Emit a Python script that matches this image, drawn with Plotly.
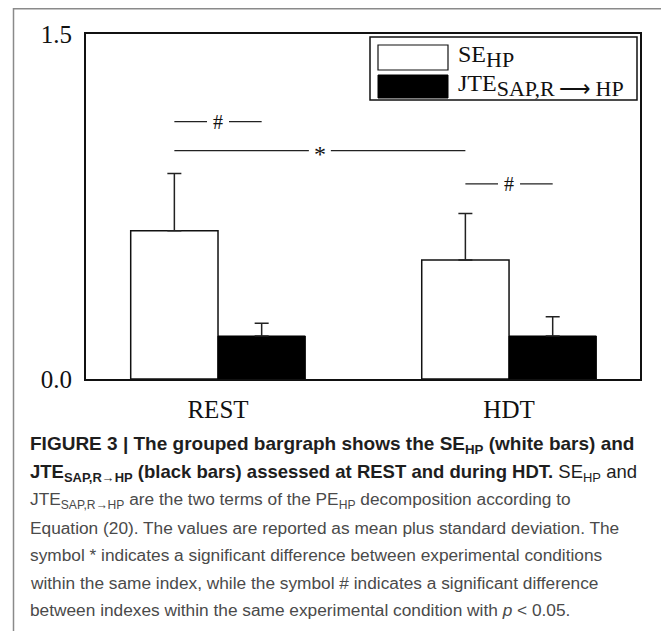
import plotly.graph_objects as go

# ---------------- data ----------------
categories = ["REST", "HDT"]
se_hp_mean = [0.645, 0.517]
se_hp_sd = [0.249, 0.203]
jte_mean = [0.187, 0.187]
jte_sd = [0.055, 0.084]
y_tick_vals = [0.0, 1.5]
y_tick_text = ["0.0", "1.5"]
series_names = ["SE<sub>HP</sub>", "JTE<sub>SAP,R\u2192HP</sub>"]
legend_labels = [
    "SE<sub><span style='font-size:22px'>HP</span></sub>",
    "JTE<sub><span style='font-size:22px'>SAP,R\u2009\u27F6\u2009HP</span></sub>",
]

caption_lines = [
    "<b>FIGURE 3 | The grouped bargraph shows the SE<sub>HP</sub> (white bars) and</b>",
    "<b>JTE<sub>SAP,R\u2192HP</sub> (black bars) assessed at REST and during HDT.</b> SE<sub>HP</sub> and",
    "JTE<sub>SAP,R\u2192HP</sub> are the two terms of the PE<sub>HP</sub> decomposition according to",
    "Equation (20). The values are reported as mean plus standard deviation. The",
    "symbol * indicates a significant difference between experimental conditions",
    "within the same index, while the symbol # indicates a significant difference",
    "between indexes within the same experimental condition with <i>p</i> &lt; 0.05.",
]
caption_sizes = [19, 18.5, 17.3, 17.3, 17.3, 17.3, 17.3]

# significance comparisons: (category a, series a, category b, series b, level, symbol)
comparisons = [
    (0, 0, 0, 1, 1.119, "#"),
    (0, 0, 1, 0, 0.993, "*"),
    (1, 0, 1, 1, 0.848, "#"),
]

# ---------------- layout helpers ----------------
OFF = 8  # page body margin
W, H = 661, 623
L, R, T, B = 78, 29, 26, 252
PW = W - L - R
PH = H - T - B
SERIF = "Liberation Serif, Times New Roman, serif"
SANS = "Liberation Sans, Arial, sans-serif"


def px_x(px):
    return (px - OFF - L) / PW


def px_y(py):
    return (H - B - (py - OFF)) / PH


BAR_W = 0.3
X_RANGE = [-0.4536, 1.450]
UNIT_PX = PW / (X_RANGE[1] - X_RANGE[0])

fig = go.Figure()
fig.add_trace(go.Bar(
    x=categories, y=se_hp_mean, name=series_names[0],
    marker=dict(color="white", line=dict(color="#111", width=1.5)),
    error_y=dict(type="data", symmetric=False, array=se_hp_sd, arrayminus=[0] * len(se_hp_sd),
                 color="#222", thickness=1.5, width=7),
    showlegend=False,
))
fig.add_trace(go.Bar(
    x=categories, y=jte_mean, name=series_names[1],
    marker=dict(color="black", line=dict(color="black", width=1)),
    error_y=dict(type="data", symmetric=False, array=jte_sd, arrayminus=[0] * len(jte_sd),
                 color="#222", thickness=1.5, width=7),
    showlegend=False,
))

shapes = []
annotations = []

# significance lines
gap = 11 / UNIT_PX
for ca, sa, cb, sb, lvl, sym in comparisons:
    xa = ca + (sa - 0.5) * BAR_W
    xb = cb + (sb - 0.5) * BAR_W
    xm = (xa + xb) / 2
    for x0, x1 in ((xa, xm - gap), (xm + gap, xb)):
        shapes.append(dict(type="line", xref="x", yref="y", x0=x0, x1=x1, y0=lvl, y1=lvl,
                           line=dict(color="#222", width=1.3)))
    annotations.append(dict(x=xm, y=lvl, xref="x", yref="y", text=sym, showarrow=False,
                            font=dict(family=SERIF, size=20 if sym == "#" else 24, color="#111"),
                            xanchor="center", yanchor="middle",
                            yshift=0 if sym == "#" else -3))

# legend (drawn)
shapes.append(dict(type="rect", xref="paper", yref="paper",
                   x0=px_x(370), x1=px_x(637), y0=px_y(100), y1=px_y(37),
                   line=dict(color="#111", width=1.5), fillcolor="white"))
shapes.append(dict(type="rect", xref="paper", yref="paper",
                   x0=px_x(378), x1=px_x(448), y0=px_y(70), y1=px_y(45),
                   line=dict(color="#111", width=1.2), fillcolor="white"))
shapes.append(dict(type="rect", xref="paper", yref="paper",
                   x0=px_x(378), x1=px_x(448), y0=px_y(98), y1=px_y(75),
                   line=dict(color="black", width=1), fillcolor="black"))
for name, cy in zip(legend_labels, (56, 85)):
    annotations.append(dict(x=px_x(456), y=px_y(cy), xref="paper", yref="paper", text=name,
                            showarrow=False, xanchor="left", yanchor="middle",
                            font=dict(family=SERIF, size=24, color="#111")))

# outer frame
shapes.append(dict(type="rect", xref="paper", yref="paper",
                   x0=px_x(13.5), x1=px_x(667), y0=px_y(700), y1=px_y(8.8),
                   line=dict(color="#8a8a8a", width=1.5), fillcolor="rgba(0,0,0,0)", layer="below"))

# caption
for i, line in enumerate(caption_lines):
    annotations.append(dict(x=px_x(28), y=px_y(445 + i * 27.5), xref="paper", yref="paper",
                            text=line, showarrow=False, xanchor="left", yanchor="middle",
                            font=dict(family=SANS, size=caption_sizes[i],
                                      color="#1e1e1e" if i < 2 else "#4a4a4a")))

fig.update_layout(
    width=W, height=H,
    margin=dict(l=L, r=R, t=T, b=B, autoexpand=False),
    paper_bgcolor="white", plot_bgcolor="white",
    barmode="group", bargap=0.4, bargroupgap=0,
    shapes=shapes, annotations=annotations,
    showlegend=False,
    xaxis=dict(type="category", range=X_RANGE, showgrid=False, zeroline=False,
               showline=True, mirror=True, linecolor="#111", linewidth=2,
               ticks="", tickfont=dict(family=SERIF, size=25, color="#111"),
               ticklabelstandoff=7),
    yaxis=dict(range=[0, 1.5], tickvals=y_tick_vals, ticktext=y_tick_text,
               showgrid=False, zeroline=False, showline=True, mirror=True,
               linecolor="#111", linewidth=2, ticks="",
               tickfont=dict(family=SERIF, size=25, color="#111"),
               ticklabelstandoff=7),
)

fig.write_html("out.html")
